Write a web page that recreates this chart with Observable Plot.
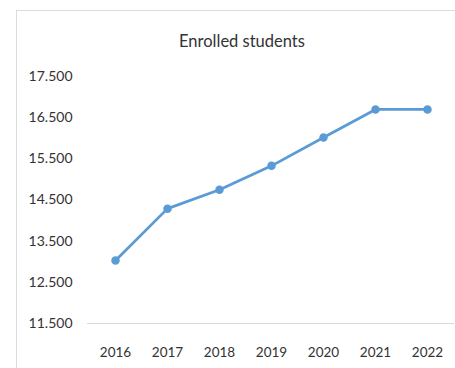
<!DOCTYPE html>
<html>
<head>
<meta charset="utf-8">
<script src="https://cdn.jsdelivr.net/npm/d3@7"></script>
<script src="https://cdn.jsdelivr.net/npm/@observablehq/plot@0.6"></script>
<style>
  html, body { margin: 0; padding: 0; background: #fff; overflow: hidden; }
  #wrap { position: relative; width: 455px; height: 368px; overflow: hidden; font-family: Lato, "Open Sans", sans-serif; }
  #border { position: absolute; left: 16px; top: 10px; width: 470px; height: 400px; border: 1px solid #dcdcdc; box-sizing: border-box; }
  #title { position: absolute; left: 16px; width: 452px; top: 31px; text-align: center; font-size: 16.5px; color: #333; }
  #chart { position: absolute; left: 0; top: 0; }
</style>
</head>
<body>
<div id="wrap">
  <div id="border"></div>
  <div id="title">Enrolled students</div>
  <div id="chart"></div>
</div>
<script>
const years = ["2016", "2017", "2018", "2019", "2020", "2021", "2022"];
const enrolled = [13030, 14290, 14750, 15330, 16020, 16700, 16700];
const yTicks = [11500, 12500, 13500, 14500, 15500, 16500, 17500];

const data = years.map((y, i) => ({year: y, value: enrolled[i]}));
const fmt = d => d3.format(",")(d).replace(/,/g, ".");

const chart = Plot.plot({
  width: 455,
  height: 368,
  marginLeft: 87,
  marginRight: 1,
  marginTop: 76,
  marginBottom: 45,
  style: {background: "transparent", fontFamily: "Lato, 'Open Sans', sans-serif", fontSize: "13px", color: "#333", overflow: "visible"},
  x: {type: "point", domain: years, padding: 0.5, label: null},
  y: {domain: [11500, 17500], label: null},
  marks: [
    Plot.axisY({ticks: yTicks, tickFormat: fmt, tickSize: 0, tickPadding: 15, label: null, fontSize: 14}),
    Plot.axisX({tickSize: 0, tickPadding: 24, label: null, fontSize: 13.5}),
    Plot.ruleY([11500], {stroke: "#d9d9d9", strokeWidth: 1.2}),
    Plot.line(data, {x: "year", y: "value", stroke: "#5b9bd5", strokeWidth: 2.75}),
    Plot.dot(data, {x: "year", y: "value", r: 3.5, fill: "#5b9bd5", stroke: "#5b9bd5"})
  ]
});
document.getElementById("chart").appendChild(chart);
</script>
</body>
</html>
